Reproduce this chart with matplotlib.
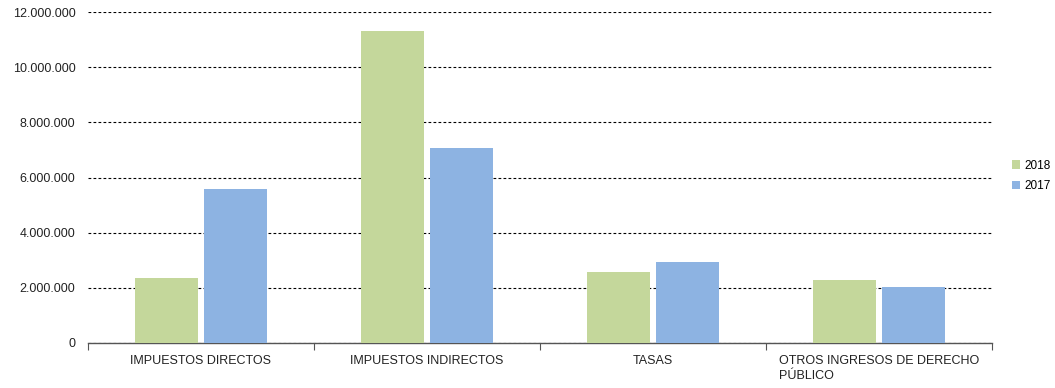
import numpy as np
import matplotlib.pyplot as plt
from matplotlib.ticker import FuncFormatter

plt.rcParams['font.family'] = ['Liberation Sans', 'DejaVu Sans']

categorias = ['IMPUESTOS DIRECTOS', 'IMPUESTOS INDIRECTOS', 'TASAS',
              'OTROS INGRESOS DE DERECHO\nPÚBLICO']
valores_2018 = [2360000, 11310000, 2570000, 2280000]
valores_2017 = [5580000, 7070000, 2940000, 2030000]
series = ['2018', '2017']
colores = ['#C4D79B', '#8DB3E2']

fig = plt.figure(figsize=(10.55, 3.88), dpi=100)
ax = fig.add_axes([0.0834, 0.116, 0.8566, 0.853])

x = np.arange(len(categorias))
ancho = 0.279
desp = 0.153
ax.bar(x - desp, valores_2018, ancho, color=colores[0], label=series[0], zorder=3)
ax.bar(x + desp, valores_2017, ancho, color=colores[1], label=series[1], zorder=3)

ax.set_xlim(-0.5, len(categorias) - 0.5)
ax.set_ylim(0, 12000000)
ax.set_yticks(np.arange(0, 12000001, 2000000))
ax.yaxis.set_major_formatter(FuncFormatter(lambda v, p: f'{int(v):,}'.replace(',', '.')))

ax.grid(axis='y', color='black', linestyle=(0, (2.5, 2)), linewidth=0.8, zorder=1)
for s in ['top', 'right', 'left']:
    ax.spines[s].set_visible(False)
ax.spines['bottom'].set_color('#555555')
ax.spines['bottom'].set_linewidth(1.0)

ax.tick_params(axis='y', length=0, pad=9, labelsize=9, labelcolor='#222222')
ax.set_xticks(np.arange(-0.5, len(categorias), 1.0))
ax.set_xticklabels([])
ax.tick_params(axis='x', which='major', length=5, color='#555555', direction='out')
ax.set_xticks(x, minor=True)
ax.set_xticklabels(categorias, minor=True, fontsize=9, color='#222222',
                   multialignment='left', va='top', linespacing=1.25)
ax.tick_params(axis='x', which='minor', length=0, pad=9)

ax.legend(loc='center left', bbox_to_anchor=(1.0, 0.505), frameon=False,
          fontsize=8.5, handlelength=0.7, handleheight=0.7, handletextpad=0.4,
          labelspacing=0.7, borderaxespad=1.3)

fig.savefig('out.png', dpi=100)
